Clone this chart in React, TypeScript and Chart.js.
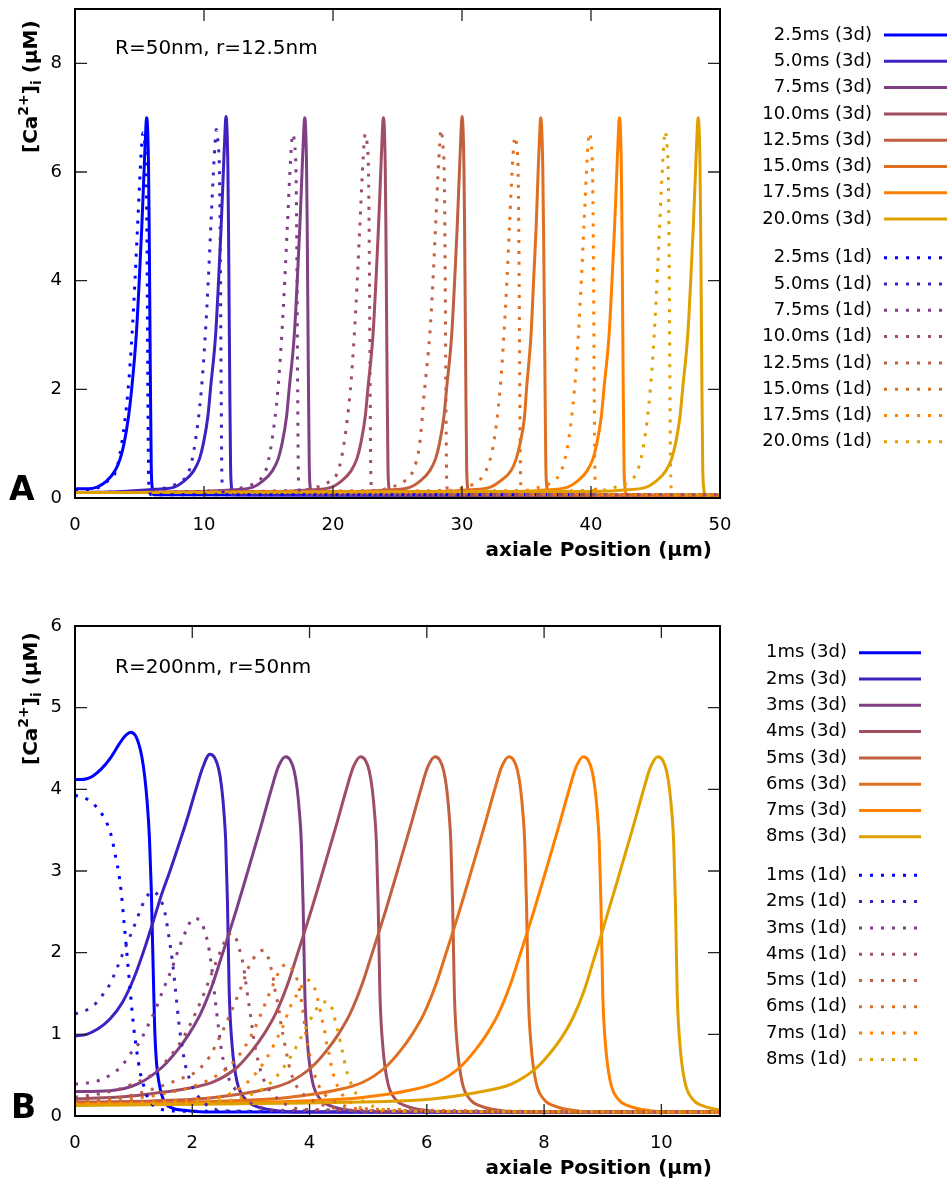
import React, { useEffect, useRef } from 'react';
import { Chart, registerables } from 'chart.js';

Chart.register(...registerables);

const FONT = '"DejaVu Sans", Verdana, sans-serif';
const COLORS = ['#0000ff', '#4020c0', '#7f3f85', '#a04f62', '#c06040', '#e07020', '#ff8000', '#e0a000'];

// ---------- Panel A: R=50nm, r=12.5nm ----------
const A_LABELS_3D = ['2.5ms (3d)', '5.0ms (3d)', '7.5ms (3d)', '10.0ms (3d)', '12.5ms (3d)', '15.0ms (3d)', '17.5ms (3d)', '20.0ms (3d)'];
const A_LABELS_1D = ['2.5ms (1d)', '5.0ms (1d)', '7.5ms (1d)', '10.0ms (1d)', '12.5ms (1d)', '15.0ms (1d)', '17.5ms (1d)', '20.0ms (1d)'];
const A_X_TICKS = [0, 10, 20, 30, 40, 50];
const A_Y_TICKS = [0, 2, 4, 6, 8];

const A3_1X = [0, 1.0, 1.7, 2.4, 3.1, 3.5, 3.8, 4.15, 4.39, 4.75, 4.98, 5.18, 5.35, 5.47, 5.55, 5.63, 5.7, 5.75, 5.8, 5.85, 5.91, 5.98, 6.12, 50];
const A3_1Y = [0.17, 0.17, 0.2, 0.3, 0.5, 0.72, 1.0, 1.5, 2.0, 3.0, 4.0, 5.0, 6.0, 6.7, 7.0, 6.8, 6.1, 5.0, 3.5, 2.0, 0.6, 0.2, 0.06, 0.04];
const A3_2X = [0, 3.7, 6.2, 7.7, 8.4, 9.2, 9.65, 9.95, 10.3, 10.5, 10.9, 11.13, 11.33, 11.5, 11.62, 11.7, 11.78, 11.85, 11.9, 11.95, 12.0, 12.06, 12.13, 12.27, 50];
const A3_2Y = [0.1, 0.12, 0.16, 0.2, 0.3, 0.5, 0.72, 1.0, 1.5, 2.0, 3.0, 4.0, 5.0, 6.0, 6.7, 7.02, 6.8, 6.1, 5.0, 3.5, 2.0, 0.6, 0.2, 0.06, 0.04];
const A3_3X = [0, 9.8, 12.3, 13.8, 14.5, 15.3, 15.75, 16.05, 16.4, 16.6, 17.0, 17.23, 17.43, 17.6, 17.72, 17.8, 17.88, 17.95, 18.0, 18.05, 18.1, 18.16, 18.23, 18.37, 50];
const A3_3Y = [0.1, 0.12, 0.15, 0.2, 0.3, 0.5, 0.72, 1.0, 1.5, 2.0, 3.0, 4.0, 5.0, 6.0, 6.7, 7.0, 6.8, 6.1, 5.0, 3.5, 2.0, 0.6, 0.2, 0.06, 0.04];
const A3_4X = [0, 15.9, 18.4, 19.9, 20.6, 21.4, 21.85, 22.15, 22.5, 22.7, 23.1, 23.33, 23.53, 23.7, 23.82, 23.9, 23.98, 24.05, 24.1, 24.15, 24.2, 24.26, 24.33, 24.47, 50];
const A3_4Y = [0.1, 0.12, 0.15, 0.2, 0.3, 0.5, 0.72, 1.0, 1.5, 2.0, 3.0, 4.0, 5.0, 6.0, 6.7, 7.0, 6.8, 6.1, 5.0, 3.5, 2.0, 0.6, 0.2, 0.06, 0.04];
const A3_5X = [0, 22.0, 24.5, 26.0, 26.7, 27.5, 27.95, 28.25, 28.6, 28.8, 29.2, 29.43, 29.63, 29.8, 29.92, 30.0, 30.08, 30.15, 30.2, 30.25, 30.3, 30.36, 30.43, 30.57, 50];
const A3_5Y = [0.1, 0.12, 0.15, 0.2, 0.3, 0.5, 0.72, 1.0, 1.5, 2.0, 3.0, 4.0, 5.0, 6.0, 6.7, 7.02, 6.8, 6.1, 5.0, 3.5, 2.0, 0.6, 0.2, 0.06, 0.04];
const A3_6X = [0, 28.1, 30.6, 32.2, 32.9, 33.8, 34.2, 34.5, 34.85, 35.0, 35.35, 35.55, 35.75, 35.9, 36.02, 36.1, 36.18, 36.26, 36.32, 36.38, 36.44, 36.5, 36.58, 36.72, 50];
const A3_6Y = [0.1, 0.12, 0.15, 0.2, 0.3, 0.5, 0.72, 1.0, 1.5, 2.0, 3.0, 4.0, 5.0, 6.0, 6.7, 7.0, 6.8, 6.1, 5.0, 3.5, 2.0, 0.6, 0.2, 0.06, 0.04];
const A3_7X = [0, 34.2, 36.7, 38.2, 38.9, 39.7, 40.15, 40.45, 40.8, 41.0, 41.4, 41.63, 41.83, 42.0, 42.12, 42.2, 42.28, 42.35, 42.4, 42.45, 42.5, 42.56, 42.63, 42.77, 50];
const A3_7Y = [0.1, 0.12, 0.15, 0.2, 0.3, 0.5, 0.72, 1.0, 1.5, 2.0, 3.0, 4.0, 5.0, 6.0, 6.7, 7.0, 6.8, 6.1, 5.0, 3.5, 2.0, 0.6, 0.2, 0.06, 0.04];
const A3_8X = [0, 40.3, 42.8, 44.3, 45.0, 45.8, 46.25, 46.55, 46.9, 47.1, 47.5, 47.73, 47.93, 48.1, 48.22, 48.3, 48.38, 48.45, 48.5, 48.55, 48.6, 48.66, 48.73, 48.87, 50];
const A3_8Y = [0.1, 0.12, 0.15, 0.2, 0.3, 0.5, 0.72, 1.0, 1.5, 2.0, 3.0, 4.0, 5.0, 6.0, 6.7, 7.0, 6.8, 6.1, 5.0, 3.5, 2.0, 0.6, 0.2, 0.06, 0.04];

const A1_1X = [0, 1.5, 2.47, 3.17, 3.62, 4.12, 4.42, 4.65, 4.85, 5.05, 5.17, 5.27, 5.42, 5.52, 5.57, 5.6, 5.65, 5.7, 5.77, 5.92, 50];
const A1_1Y = [0.15, 0.17, 0.3, 0.5, 1.0, 2.0, 3.0, 4.0, 5.0, 6.0, 6.5, 6.72, 6.5, 6.0, 5.0, 4.0, 2.0, 0.5, 0.15, 0.06, 0.06];
const A1_2X = [0, 5.95, 7.15, 8.15, 8.85, 9.3, 9.8, 10.1, 10.33, 10.53, 10.73, 10.85, 10.95, 11.1, 11.2, 11.25, 11.28, 11.33, 11.38, 11.45, 11.6, 50];
const A1_2Y = [0.1, 0.14, 0.2, 0.3, 0.5, 1.0, 2.0, 3.0, 4.0, 5.0, 6.0, 6.5, 6.78, 6.5, 6.0, 5.0, 4.0, 2.0, 0.5, 0.15, 0.06, 0.06];
const A1_3X = [0, 11.88, 13.08, 14.08, 14.78, 15.23, 15.73, 16.03, 16.26, 16.46, 16.66, 16.78, 16.88, 17.03, 17.13, 17.18, 17.21, 17.26, 17.31, 17.38, 17.53, 50];
const A1_3Y = [0.1, 0.14, 0.2, 0.3, 0.5, 1.0, 2.0, 3.0, 4.0, 5.0, 6.0, 6.5, 6.7, 6.5, 6.0, 5.0, 4.0, 2.0, 0.5, 0.15, 0.06, 0.06];
const A1_4X = [0, 17.5, 18.7, 19.7, 20.4, 20.85, 21.35, 21.65, 21.88, 22.08, 22.28, 22.4, 22.5, 22.65, 22.75, 22.8, 22.83, 22.88, 22.93, 23.0, 23.15, 50];
const A1_4Y = [0.1, 0.14, 0.2, 0.3, 0.5, 1.0, 2.0, 3.0, 4.0, 5.0, 6.0, 6.5, 6.7, 6.5, 6.0, 5.0, 4.0, 2.0, 0.5, 0.15, 0.06, 0.06];
const A1_5X = [0, 23.3, 24.5, 25.5, 26.2, 26.72, 27.1, 27.5, 27.75, 27.95, 28.15, 28.27, 28.37, 28.52, 28.62, 28.67, 28.7, 28.75, 28.8, 28.87, 29.02, 50];
const A1_5Y = [0.1, 0.14, 0.2, 0.3, 0.5, 1.0, 2.0, 3.0, 4.0, 5.0, 6.0, 6.5, 6.78, 6.5, 6.0, 5.0, 4.0, 2.0, 0.5, 0.15, 0.06, 0.06];
const A1_6X = [0, 29.0, 30.2, 31.2, 31.86, 32.45, 32.95, 33.25, 33.48, 33.68, 33.88, 34.0, 34.1, 34.25, 34.35, 34.4, 34.43, 34.48, 34.53, 34.6, 34.75, 50];
const A1_6Y = [0.1, 0.14, 0.2, 0.3, 0.5, 1.0, 2.0, 3.0, 4.0, 5.0, 6.0, 6.45, 6.65, 6.45, 6.0, 5.0, 4.0, 2.0, 0.5, 0.15, 0.06, 0.06];
const A1_7X = [0, 34.8, 36.0, 37.0, 37.7, 38.22, 38.72, 39.02, 39.25, 39.45, 39.65, 39.77, 39.87, 40.02, 40.12, 40.17, 40.2, 40.25, 40.3, 40.37, 40.52, 50];
const A1_7Y = [0.1, 0.14, 0.2, 0.3, 0.5, 1.0, 2.0, 3.0, 4.0, 5.0, 6.0, 6.5, 6.72, 6.5, 6.0, 5.0, 4.0, 2.0, 0.5, 0.15, 0.06, 0.06];
const A1_8X = [0, 40.7, 41.9, 42.9, 43.6, 44.1, 44.6, 44.9, 45.12, 45.32, 45.52, 45.64, 45.74, 45.89, 45.99, 46.04, 46.07, 46.12, 46.17, 46.24, 46.39, 50];
const A1_8Y = [0.1, 0.14, 0.2, 0.3, 0.5, 1.0, 2.0, 3.0, 4.0, 5.0, 6.0, 6.5, 6.75, 6.5, 6.0, 5.0, 4.0, 2.0, 0.5, 0.15, 0.06, 0.06];

// ---------- Panel B: R=200nm, r=50nm ----------
const B_LABELS_3D = ['1ms (3d)', '2ms (3d)', '3ms (3d)', '4ms (3d)', '5ms (3d)', '6ms (3d)', '7ms (3d)', '8ms (3d)'];
const B_LABELS_1D = ['1ms (1d)', '2ms (1d)', '3ms (1d)', '4ms (1d)', '5ms (1d)', '6ms (1d)', '7ms (1d)', '8ms (1d)'];
const B_X_TICKS = [0, 2, 4, 6, 8, 10];
const B_Y_TICKS = [0, 1, 2, 3, 4, 5, 6];

const B3_1X = [0, 0.1, 0.2, 0.3, 0.45, 0.6, 0.75, 0.85, 0.95, 1.03, 1.09, 1.14, 1.19, 1.23, 1.27, 1.3, 1.32, 1.34, 1.36, 1.39, 1.44, 1.52, 1.65, 1.87, 2.2, 11];
const B3_1Y = [4.12, 4.12, 4.13, 4.16, 4.25, 4.38, 4.55, 4.65, 4.7, 4.66, 4.55, 4.4, 4.15, 3.85, 3.4, 2.8, 2.2, 1.6, 1.05, 0.65, 0.38, 0.18, 0.1, 0.07, 0.05, 0.05];
const B3_2X = [0, 0.2, 0.4, 0.6, 0.8, 1.0, 1.2, 1.35, 1.48, 1.62, 1.76, 1.91, 2.05, 2.18, 2.3, 2.38, 2.45, 2.5, 2.54, 2.57, 2.6, 2.63, 2.68, 2.76, 2.9, 3.05, 3.3, 3.7, 11];
const B3_2Y = [0.98, 1.0, 1.07, 1.19, 1.38, 1.68, 2.08, 2.42, 2.72, 3.0, 3.3, 3.63, 3.97, 4.27, 4.43, 4.39, 4.25, 4.03, 3.72, 3.37, 2.62, 1.52, 0.86, 0.43, 0.21, 0.13, 0.08, 0.05, 0.05];
const B3_3X = [0, 0.59, 1.09, 1.49, 1.74, 1.94, 2.14, 2.34, 2.49, 2.61, 2.75, 2.9, 3.05, 3.2, 3.34, 3.47, 3.59, 3.67, 3.74, 3.79, 3.83, 3.86, 3.89, 3.92, 3.97, 4.05, 4.19, 4.34, 4.59, 4.99, 11];
const B3_3Y = [0.3, 0.31, 0.4, 0.6, 0.8, 1.0, 1.25, 1.6, 1.93, 2.2, 2.52, 2.88, 3.25, 3.62, 3.98, 4.28, 4.4, 4.36, 4.22, 4.0, 3.7, 3.35, 2.6, 1.5, 0.85, 0.42, 0.2, 0.13, 0.08, 0.05, 0.05];
const B3_4X = [0, 0.87, 1.37, 1.87, 2.37, 2.77, 3.02, 3.22, 3.42, 3.62, 3.77, 3.89, 4.03, 4.18, 4.33, 4.48, 4.62, 4.75, 4.87, 4.95, 5.02, 5.07, 5.11, 5.14, 5.17, 5.2, 5.25, 5.33, 5.47, 5.62, 5.87, 6.27, 11];
const B3_4Y = [0.21, 0.24, 0.28, 0.33, 0.42, 0.6, 0.8, 1.0, 1.25, 1.6, 1.93, 2.2, 2.52, 2.88, 3.25, 3.62, 3.98, 4.28, 4.4, 4.36, 4.22, 4.0, 3.7, 3.35, 2.6, 1.5, 0.85, 0.42, 0.2, 0.13, 0.08, 0.05, 0.05];
const B3_5X = [0, 1.14, 2.14, 2.64, 3.14, 3.64, 4.04, 4.29, 4.49, 4.69, 4.89, 5.04, 5.16, 5.3, 5.45, 5.6, 5.75, 5.89, 6.02, 6.14, 6.22, 6.29, 6.34, 6.38, 6.41, 6.44, 6.47, 6.52, 6.6, 6.74, 6.89, 7.14, 7.54, 11];
const B3_5Y = [0.17, 0.18, 0.21, 0.25, 0.31, 0.41, 0.6, 0.8, 1.0, 1.25, 1.6, 1.93, 2.2, 2.52, 2.88, 3.25, 3.62, 3.98, 4.28, 4.4, 4.36, 4.22, 4.0, 3.7, 3.35, 2.6, 1.5, 0.85, 0.42, 0.2, 0.13, 0.08, 0.05, 0.05];
const B3_6X = [0, 1.4, 3.4, 3.9, 4.4, 4.9, 5.3, 5.55, 5.75, 5.95, 6.15, 6.3, 6.42, 6.56, 6.71, 6.86, 7.01, 7.15, 7.28, 7.4, 7.48, 7.55, 7.6, 7.64, 7.67, 7.7, 7.73, 7.78, 7.86, 8.0, 8.15, 8.4, 8.8, 11];
const B3_6Y = [0.15, 0.16, 0.21, 0.25, 0.31, 0.41, 0.6, 0.8, 1.0, 1.25, 1.6, 1.93, 2.2, 2.52, 2.88, 3.25, 3.62, 3.98, 4.28, 4.4, 4.36, 4.22, 4.0, 3.7, 3.35, 2.6, 1.5, 0.85, 0.42, 0.2, 0.13, 0.08, 0.05, 0.05];
const B3_7X = [0, 2.67, 4.67, 5.17, 5.67, 6.17, 6.57, 6.82, 7.02, 7.22, 7.42, 7.57, 7.69, 7.83, 7.98, 8.13, 8.28, 8.42, 8.55, 8.67, 8.75, 8.82, 8.87, 8.91, 8.94, 8.97, 9.0, 9.05, 9.13, 9.27, 9.42, 9.67, 10.07, 11];
const B3_7Y = [0.14, 0.16, 0.21, 0.25, 0.31, 0.41, 0.6, 0.8, 1.0, 1.25, 1.6, 1.93, 2.2, 2.52, 2.88, 3.25, 3.62, 3.98, 4.28, 4.4, 4.36, 4.22, 4.0, 3.7, 3.35, 2.6, 1.5, 0.85, 0.42, 0.2, 0.13, 0.08, 0.05, 0.05];
const B3_8X = [0, 3.94, 5.94, 6.44, 6.94, 7.44, 7.84, 8.09, 8.29, 8.49, 8.69, 8.84, 8.96, 9.1, 9.25, 9.4, 9.55, 9.69, 9.82, 9.94, 10.02, 10.09, 10.14, 10.18, 10.21, 10.24, 10.27, 10.32, 10.4, 10.54, 10.69, 10.94, 11];
const B3_8Y = [0.13, 0.16, 0.2, 0.24, 0.3, 0.39, 0.57, 0.76, 0.95, 1.2, 1.55, 1.9, 2.18, 2.52, 2.88, 3.25, 3.62, 3.98, 4.28, 4.4, 4.36, 4.22, 4.0, 3.7, 3.35, 2.6, 1.5, 0.85, 0.42, 0.2, 0.13, 0.08, 0.075];

const B1_1X = [0, 0.23, 0.37, 0.5, 0.57, 0.63, 0.68, 0.74, 0.79, 0.83, 0.88, 0.94, 1.0, 1.05, 1.11, 1.16, 1.21, 1.3, 1.48, 1.65, 11];
const B1_1Y = [3.93, 3.87, 3.78, 3.65, 3.54, 3.4, 3.22, 3.0, 2.73, 2.42, 2.03, 1.55, 1.09, 0.81, 0.54, 0.4, 0.28, 0.155, 0.08, 0.06, 0.05];
const B1_2X = [0, 0.23, 0.37, 0.49, 0.6, 0.68, 0.75, 0.85, 0.95, 1.05, 1.13, 1.21, 1.32, 1.45, 1.53, 1.6, 1.66, 1.72, 1.77, 1.82, 1.88, 1.95, 2.03, 2.16, 2.33, 2.6, 11];
const B1_2Y = [1.25, 1.31, 1.39, 1.5, 1.62, 1.75, 1.87, 2.05, 2.22, 2.4, 2.55, 2.67, 2.75, 2.66, 2.5, 2.2, 1.9, 1.5, 1.15, 0.88, 0.63, 0.46, 0.32, 0.19, 0.1, 0.06, 0.05];
const B1_3X = [0, 0.26, 0.43, 0.6, 0.75, 0.88, 0.99, 1.11, 1.19, 1.28, 1.36, 1.5, 1.65, 1.77, 1.92, 2.01, 2.1, 2.16, 2.22, 2.27, 2.3, 2.33, 2.37, 2.41, 2.46, 2.51, 2.55, 2.61, 2.72, 2.87, 3.12, 3.4, 11];
const B1_3Y = [0.39, 0.41, 0.44, 0.5, 0.58, 0.69, 0.81, 0.91, 1.03, 1.16, 1.28, 1.54, 1.8, 2.05, 2.31, 2.42, 2.41, 2.37, 2.24, 2.11, 1.97, 1.83, 1.56, 1.3, 1.01, 0.75, 0.63, 0.48, 0.34, 0.22, 0.12, 0.07, 0.05];
const B1_4X = [0, 0.4, 0.8, 1.05, 1.3, 1.5, 1.7, 1.88, 2.05, 2.2, 2.35, 2.5, 2.6, 2.67, 2.76, 2.82, 2.87, 2.91, 2.95, 2.99, 3.03, 3.07, 3.12, 3.18, 3.26, 3.4, 3.6, 3.9, 11];
const B1_4Y = [0.23, 0.27, 0.34, 0.41, 0.5, 0.63, 0.8, 1.0, 1.25, 1.5, 1.78, 2.05, 2.2, 2.24, 2.15, 2.0, 1.85, 1.65, 1.44, 1.25, 1.03, 0.85, 0.68, 0.52, 0.38, 0.25, 0.14, 0.08, 0.05];
const B1_5X = [0, 0.6, 1.0, 1.33, 1.6, 1.85, 2.04, 2.18, 2.3, 2.38, 2.47, 2.55, 2.7, 2.84, 2.98, 3.1, 3.22, 3.31, 3.35, 3.39, 3.42, 3.46, 3.49, 3.52, 3.56, 3.59, 3.63, 3.67, 3.73, 3.8, 3.94, 4.17, 4.5, 11];
const B1_5Y = [0.18, 0.21, 0.26, 0.33, 0.4, 0.47, 0.53, 0.62, 0.73, 0.84, 0.97, 1.09, 1.34, 1.59, 1.85, 1.98, 2.03, 1.91, 1.79, 1.65, 1.5, 1.38, 1.24, 1.09, 0.95, 0.83, 0.69, 0.56, 0.44, 0.34, 0.24, 0.15, 0.09, 0.05];
const B1_6X = [0, 0.8, 1.5, 2.0, 2.3, 2.55, 2.75, 2.9, 3.05, 3.2, 3.35, 3.47, 3.6, 3.72, 3.8, 3.84, 3.88, 3.91, 3.94, 3.97, 4.01, 4.06, 4.11, 4.19, 4.31, 4.51, 4.8, 11];
const B1_6Y = [0.16, 0.2, 0.27, 0.36, 0.45, 0.56, 0.7, 0.85, 1.05, 1.3, 1.56, 1.75, 1.86, 1.78, 1.64, 1.5, 1.32, 1.15, 0.99, 0.85, 0.72, 0.58, 0.45, 0.33, 0.23, 0.15, 0.09, 0.05];
const B1_7X = [0, 1.0, 1.8, 2.3, 2.53, 2.72, 2.89, 3.02, 3.15, 3.25, 3.35, 3.43, 3.52, 3.59, 3.66, 3.74, 3.83, 3.95, 4.09, 4.14, 4.18, 4.22, 4.26, 4.29, 4.33, 4.37, 4.41, 4.48, 4.57, 4.71, 4.91, 5.2, 11];
const B1_7Y = [0.15, 0.16, 0.19, 0.22, 0.24, 0.3, 0.38, 0.47, 0.58, 0.69, 0.81, 0.93, 1.05, 1.18, 1.32, 1.43, 1.54, 1.67, 1.56, 1.43, 1.3, 1.16, 1.03, 0.89, 0.77, 0.62, 0.5, 0.36, 0.25, 0.16, 0.09, 0.06, 0.05];
const B1_8X = [0, 1.2, 2.0, 2.5, 2.72, 2.92, 3.09, 3.26, 3.4, 3.52, 3.63, 3.73, 3.82, 3.9, 4.0, 4.09, 4.18, 4.3, 4.41, 4.45, 4.5, 4.54, 4.58, 4.62, 4.68, 4.75, 4.85, 4.96, 5.2, 5.5, 11];
const B1_8Y = [0.14, 0.15, 0.17, 0.19, 0.2, 0.24, 0.29, 0.36, 0.45, 0.56, 0.67, 0.79, 0.91, 1.03, 1.16, 1.28, 1.37, 1.4, 1.26, 1.12, 0.99, 0.85, 0.73, 0.58, 0.45, 0.33, 0.22, 0.16, 0.09, 0.06, 0.05];

const A_3D = [[A3_1X, A3_1Y], [A3_2X, A3_2Y], [A3_3X, A3_3Y], [A3_4X, A3_4Y], [A3_5X, A3_5Y], [A3_6X, A3_6Y], [A3_7X, A3_7Y], [A3_8X, A3_8Y]];
const A_1D = [[A1_1X, A1_1Y], [A1_2X, A1_2Y], [A1_3X, A1_3Y], [A1_4X, A1_4Y], [A1_5X, A1_5Y], [A1_6X, A1_6Y], [A1_7X, A1_7Y], [A1_8X, A1_8Y]];
const B_3D = [[B3_1X, B3_1Y], [B3_2X, B3_2Y], [B3_3X, B3_3Y], [B3_4X, B3_4Y], [B3_5X, B3_5Y], [B3_6X, B3_6Y], [B3_7X, B3_7Y], [B3_8X, B3_8Y]];
const B_1D = [[B1_1X, B1_1Y], [B1_2X, B1_2Y], [B1_3X, B1_3Y], [B1_4X, B1_4Y], [B1_5X, B1_5Y], [B1_6X, B1_6Y], [B1_7X, B1_7Y], [B1_8X, B1_8Y]];

const DOT = [3, 8];

type Panel = {
  w: number; h: number;
  plot: { left: number; right: number; top: number; bottom: number };
  xMax: number; yMax: number; xTicks: number[]; yTicks: number[];
  s3: number[][][]; s1: number[][][]; l3: string[]; l1: string[];
  legend: { textRight: number; x1: number; x2: number; row0: number; row1: number; step: number };
  note: string; noteX: number; noteY: number;
  letter: string; letterX: number; letterY: number;
  yTitleX: number; yTitleY: number;
  xTitleRight: number; xTitleY: number;
};

function drawRich(ctx: CanvasRenderingContext2D, parts: { t: string; size: number; dy: number }[], x: number, y: number) {
  let cx = x;
  for (const p of parts) {
    ctx.font = `bold ${p.size}px ${FONT}`;
    ctx.fillText(p.t, cx, y + p.dy);
    cx += ctx.measureText(p.t).width;
  }
}

function makeDeco(p: Panel) {
  return {
    id: 'deco',
    afterDatasetsDraw(chart: any) {
      const ctx: CanvasRenderingContext2D = chart.ctx;
      const a = chart.chartArea;
      const xs = chart.scales.x;
      const ys = chart.scales.y;
      ctx.save();
      ctx.strokeStyle = '#222';
      ctx.lineWidth = 1.3;
      ctx.setLineDash([]);
      ctx.beginPath();
      for (const v of p.xTicks) {
        const px = xs.getPixelForValue(v);
        ctx.moveTo(px, a.bottom); ctx.lineTo(px, a.bottom - 12);
        ctx.moveTo(px, a.top); ctx.lineTo(px, a.top + 12);
      }
      for (const v of p.yTicks) {
        const py = ys.getPixelForValue(v);
        ctx.moveTo(a.left, py); ctx.lineTo(a.left + 12, py);
        ctx.moveTo(a.right, py); ctx.lineTo(a.right - 12, py);
      }
      ctx.stroke();
      ctx.strokeStyle = '#000';
      ctx.lineWidth = 2;
      ctx.strokeRect(a.left, a.top, a.right - a.left, a.bottom - a.top);
      ctx.restore();
    },
    afterDraw(chart: any) {
      const ctx: CanvasRenderingContext2D = chart.ctx;
      const a = chart.chartArea;
      const xs = chart.scales.x;
      const ys = chart.scales.y;
      ctx.save();
      ctx.fillStyle = '#000';
      ctx.font = `18px ${FONT}`;
      ctx.textAlign = 'center';
      ctx.textBaseline = 'middle';
      for (const v of p.xTicks) ctx.fillText(String(v), xs.getPixelForValue(v), a.bottom + 27);
      ctx.textAlign = 'right';
      for (const v of p.yTicks) ctx.fillText(String(v), a.left - 13, ys.getPixelForValue(v));

      // legend
      const rows: { label: string; color: string; dash: number[]; y: number }[] = [];
      p.l3.forEach((l, i) => rows.push({ label: l, color: COLORS[i], dash: [], y: p.legend.row0 + i * p.legend.step }));
      p.l1.forEach((l, i) => rows.push({ label: l, color: COLORS[i], dash: DOT, y: p.legend.row1 + i * p.legend.step }));
      for (const r of rows) {
        ctx.fillStyle = '#000';
        ctx.font = `18px ${FONT}`;
        ctx.textAlign = 'right';
        ctx.textBaseline = 'middle';
        ctx.fillText(r.label, p.legend.textRight, r.y);
        ctx.strokeStyle = r.color;
        ctx.lineWidth = 3;
        ctx.lineCap = 'butt';
        ctx.setLineDash(r.dash);
        ctx.beginPath();
        ctx.moveTo(p.legend.x1, r.y);
        ctx.lineTo(p.legend.x2, r.y);
        ctx.stroke();
      }
      ctx.setLineDash([]);

      // annotation
      ctx.fillStyle = '#000';
      ctx.textAlign = 'left';
      ctx.textBaseline = 'alphabetic';
      ctx.font = `20px ${FONT}`;
      ctx.fillText(p.note, p.noteX, p.noteY);

      // panel letter
      ctx.font = `bold 33px ${FONT}`;
      ctx.fillText(p.letter, p.letterX, p.letterY);

      // x title
      ctx.font = `bold 20px ${FONT}`;
      ctx.textAlign = 'right';
      ctx.textBaseline = 'middle';
      ctx.fillText('axiale Position (µm)', p.xTitleRight, p.xTitleY);

      // y title (rotated)
      ctx.textAlign = 'left';
      ctx.textBaseline = 'alphabetic';
      ctx.translate(p.yTitleX, p.yTitleY);
      ctx.rotate(-Math.PI / 2);
      drawRich(ctx, [
        { t: '[Ca', size: 20, dy: 0 },
        { t: '2+', size: 14, dy: -9 },
        { t: ']', size: 20, dy: 0 },
        { t: 'i', size: 14, dy: 4 },
        { t: ' (µM)', size: 20, dy: 0 },
      ], 0, 0);
      ctx.restore();
    },
  };
}

function buildDatasets(p: Panel) {
  const ds: any[] = [];
  const n = p.s3.length + p.s1.length;
  p.s3.forEach(([xs, ys], i) => ds.push({
    label: p.l3[i], data: xs.map((x, k) => ({ x, y: ys[k] })), borderColor: COLORS[i], borderDash: [],
  }));
  p.s1.forEach(([xs, ys], i) => ds.push({
    label: p.l1[i], data: xs.map((x, k) => ({ x, y: ys[k] })), borderColor: COLORS[i], borderDash: DOT,
  }));
  return ds.map((d, i) => ({
    ...d,
    backgroundColor: d.borderColor,
    borderWidth: 3,
    pointRadius: 0,
    fill: false,
    cubicInterpolationMode: 'monotone',
    borderCapStyle: 'butt',
    borderJoinStyle: 'round',
    order: n - i,
  }));
}

function PanelChart({ p, top }: { p: Panel; top: number }) {
  const ref = useRef<HTMLCanvasElement | null>(null);
  useEffect(() => {
    if (!ref.current) return;
    const chart = new Chart(ref.current, {
      type: 'line',
      data: { datasets: buildDatasets(p) },
      options: {
        responsive: false,
        animation: false,
        devicePixelRatio: 1,
        events: [],
        layout: { padding: { left: 0, top: p.plot.top, right: p.w - p.plot.right, bottom: 0 } },
        plugins: { legend: { display: false }, tooltip: { enabled: false } },
        scales: {
          x: {
            type: 'linear', min: 0, max: p.xMax,
            grid: { display: false, drawTicks: false }, border: { display: false },
            ticks: { display: false },
            afterFit: (s: any) => { s.height = p.h - p.plot.bottom; },
          },
          y: {
            type: 'linear', min: 0, max: p.yMax,
            grid: { display: false, drawTicks: false }, border: { display: false },
            ticks: { display: false },
            afterFit: (s: any) => { s.width = p.plot.left; },
          },
        },
      } as any,
      plugins: [makeDeco(p)],
    });
    return () => chart.destroy();
  }, [p]);
  return (
    <canvas ref={ref} width={p.w} height={p.h}
      style={{ position: 'absolute', left: 0, top, width: p.w, height: p.h, display: 'block' }} />
  );
}

const PANEL_A: Panel = {
  w: 952, h: 590,
  plot: { left: 75, right: 720, top: 9, bottom: 498 },
  xMax: 50, yMax: 9, xTicks: A_X_TICKS, yTicks: A_Y_TICKS,
  s3: A_3D, s1: A_1D, l3: A_LABELS_3D, l1: A_LABELS_1D,
  legend: { textRight: 872, x1: 884, x2: 947, row0: 35, row1: 257.7, step: 26.3 },
  note: 'R=50nm, r=12.5nm', noteX: 115, noteY: 54,
  letter: 'A', letterX: 9, letterY: 500,
  yTitleX: 37, yTitleY: 153,
  xTitleRight: 712, xTitleY: 551,
};

const PANEL_B: Panel = {
  w: 952, h: 595,
  plot: { left: 75, right: 720, top: 36, bottom: 526 },
  xMax: 11, yMax: 6, xTicks: B_X_TICKS, yTicks: B_Y_TICKS,
  s3: B_3D, s1: B_1D, l3: B_LABELS_3D, l1: B_LABELS_1D,
  legend: { textRight: 847, x1: 859, x2: 921, row0: 62.7, row1: 285.3, step: 26.3 },
  note: 'R=200nm, r=50nm', noteX: 115, noteY: 82.7,
  letter: 'B', letterX: 11, letterY: 528,
  yTitleX: 37, yTitleY: 175,
  xTitleRight: 712, xTitleY: 579,
};

export default function App() {
  return (
    <div style={{ position: 'absolute', left: 0, top: 0, width: 952, height: 1185, background: '#fff' }}>
      <PanelChart p={PANEL_A} top={0} />
      <PanelChart p={PANEL_B} top={590} />
    </div>
  );
}
